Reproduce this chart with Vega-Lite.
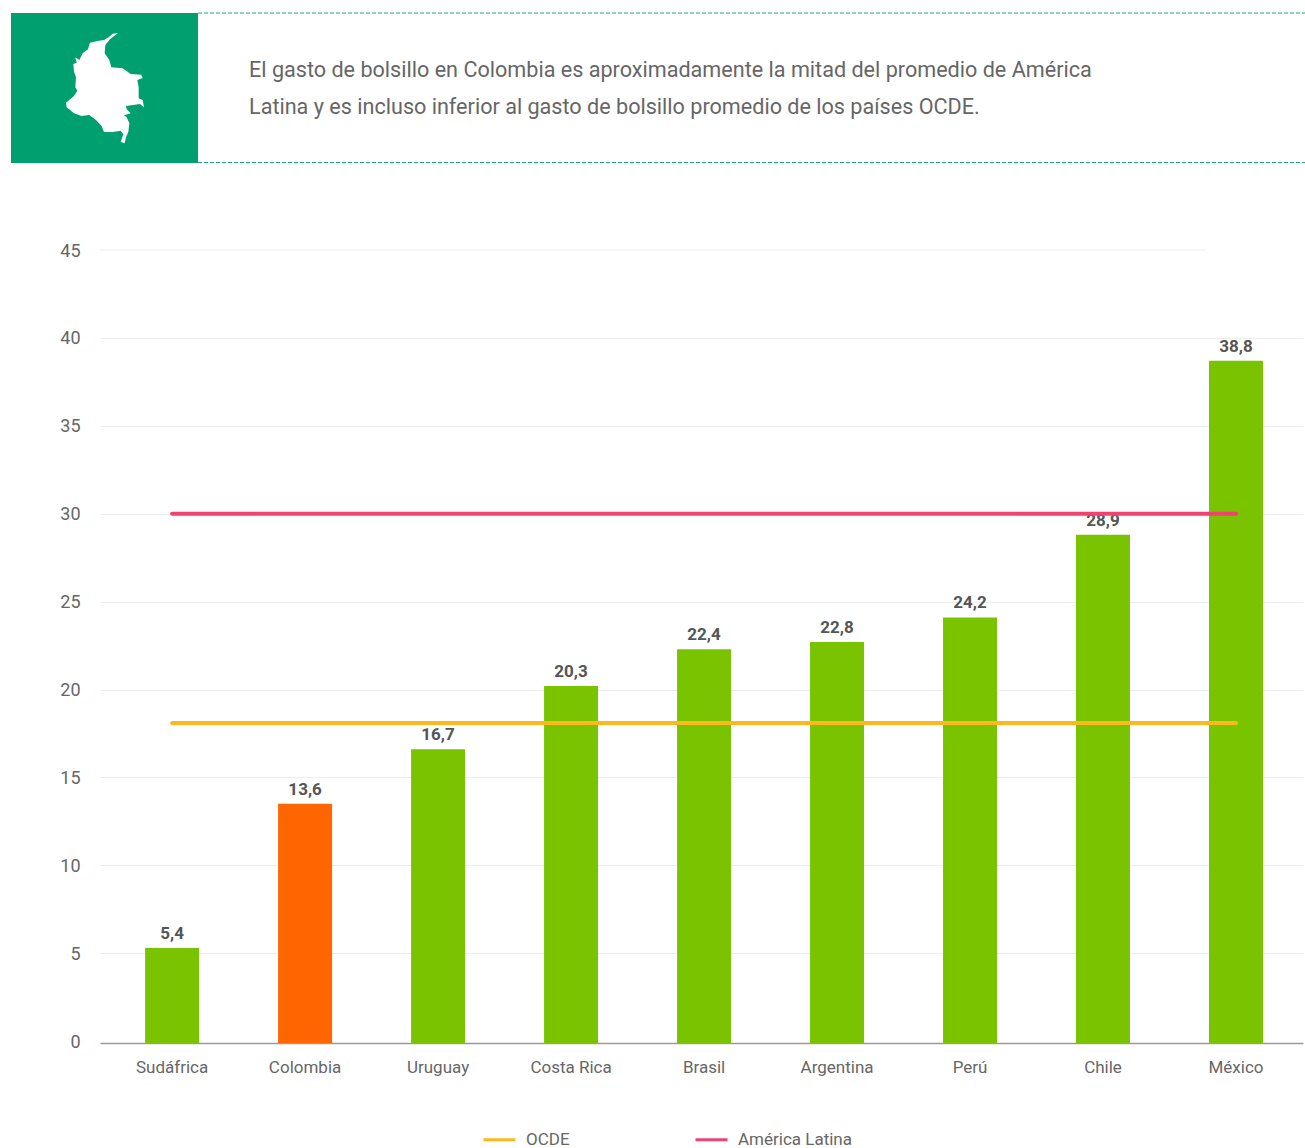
{
"$schema":"https://vega.github.io/schema/vega-lite/v6.json",
"width":1203,"height":793,
"autosize":{"type":"none"},
"padding":{"left":100,"top":250,"right":2,"bottom":105},
"background":"white",
"config":{"view":{"stroke":null},"font":"Roboto"},
"datasets":{
 "paises":[
  {"pais":"Sudáfrica","gasto":5.4,"etiqueta":"5,4","grupo":"Otros"},
  {"pais":"Colombia","gasto":13.6,"etiqueta":"13,6","grupo":"Colombia"},
  {"pais":"Uruguay","gasto":16.7,"etiqueta":"16,7","grupo":"Otros"},
  {"pais":"Costa Rica","gasto":20.3,"etiqueta":"20,3","grupo":"Otros"},
  {"pais":"Brasil","gasto":22.4,"etiqueta":"22,4","grupo":"Otros"},
  {"pais":"Argentina","gasto":22.8,"etiqueta":"22,8","grupo":"Otros"},
  {"pais":"Perú","gasto":24.2,"etiqueta":"24,2","grupo":"Otros"},
  {"pais":"Chile","gasto":28.9,"etiqueta":"28,9","grupo":"Otros"},
  {"pais":"México","gasto":38.8,"etiqueta":"38,8","grupo":"Otros"}
 ],
 "promedios":[
  {"pais":"Sudáfrica","serie":"OCDE","valor":18.1},
  {"pais":"México","serie":"OCDE","valor":18.1},
  {"pais":"Sudáfrica","serie":"América Latina","valor":30},
  {"pais":"México","serie":"América Latina","valor":30}
 ]
},
"resolve":{"scale":{"x":"independent","y":"independent","fill":"independent","stroke":"independent"},"axis":{"x":"independent","y":"independent"}},
"layer":[
 {"data":{"values":[{}]},"mark":{"type":"rect","fill":"#009F6F"},
  "encoding":{
   "x":{"datum":11,"type":"quantitative","scale":{"domain":[100,1303],"nice":false,"zero":false},"axis":null},
   "x2":{"datum":198},
   "y":{"datum":13,"type":"quantitative","scale":{"domain":[1043,250],"nice":false,"zero":false},"axis":null},
   "y2":{"datum":163}}},
 {"data":{"values":[{"posicion":13},{"posicion":162.5}]},"mark":{"type":"rule","stroke":"#1FA87F","strokeWidth":1,"strokeDash":[4,2]},
  "encoding":{
   "x":{"datum":198,"type":"quantitative","scale":{"domain":[100,1303],"nice":false,"zero":false},"axis":null},
   "x2":{"datum":1305},
   "y":{"field":"posicion","type":"quantitative","scale":{"domain":[1043,250],"nice":false,"zero":false},"axis":null}}},
 {"data":{"values":[{}]},"mark":{"type":"point","filled":true,"fill":"white","opacity":1,"stroke":null,"size":12544,
   "shape":"M.232,-.982L.137,-.97L.065,-.905L-.018,-.857L-.137,-.839L-.268,-.81L-.304,-.69L-.399,-.619L-.458,-.5L-.53,-.548L-.506,-.452L-.565,-.429L-.554,-.292L-.518,-.19L-.53,-.012L-.494,.048L-.554,.143L-.696,.262L-.685,.345L-.554,.452L-.417,.5L-.28,.482L-.161,.571L-.06,.679L-.018,.786L.137,.786L.28,.762L.327,.827L.28,.964L.351,.988L.375,.881L.417,.78L.435,.631L.387,.524L.339,.488L.458,.452L.387,.381L.375,.321L.625,.286L.696,.345L.673,.214L.601,.185L.601,-.012L.577,-.143L.673,-.179L.649,-.238L.458,-.25L.315,-.351L.113,-.369L.077,-.5L-.006,-.619L.006,-.768L.089,-.869Z"},
  "encoding":{
   "x":{"datum":105,"type":"quantitative","scale":{"domain":[100,1303],"nice":false,"zero":false},"axis":null},
   "y":{"datum":88,"type":"quantitative","scale":{"domain":[1043,250],"nice":false,"zero":false},"axis":null}}},
 {"data":{"values":[
   {"texto":"El gasto de bolsillo en Colombia es aproximadamente la mitad del promedio de América","linea":71},
   {"texto":"Latina y es incluso inferior al gasto de bolsillo promedio de los países OCDE.","linea":108}]},
  "mark":{"type":"text","align":"left","baseline":"middle","fontSize":21.6,"fontWeight":400,"color":"#666666"},
  "encoding":{
   "x":{"datum":249,"type":"quantitative","scale":{"domain":[100,1303],"nice":false,"zero":false},"axis":null},
   "y":{"field":"linea","type":"quantitative","scale":{"domain":[1043,250],"nice":false,"zero":false},"axis":null},
   "text":{"field":"texto"}}},
 {"data":{"values":[{}]},"mark":{"type":"rule","stroke":"#EDEDED","strokeWidth":1},
  "encoding":{
   "x":{"datum":100,"type":"quantitative","scale":{"domain":[100,1303],"nice":false,"zero":false},"axis":null},
   "x2":{"datum":1206},
   "y":{"datum":45,"type":"quantitative","scale":{"domain":[-0.1,45],"nice":false,"zero":false},"axis":null}}},
 {"data":{"name":"paises"},"mark":{"type":"bar"},
  "encoding":{
   "x":{"field":"pais","type":"nominal","sort":null,
    "scale":{"type":"band","paddingInner":0.594,"paddingOuter":0.32,"align":0.53},
    "axis":{"title":null,"labelAngle":0,"ticks":false,"domainColor":"#9A9A9A","domainWidth":1.5,"labelColor":"#666666","labelFont":"Roboto","labelFontSize":17,"labelFontWeight":400,"labelPadding":16,"grid":false}},
   "y":{"field":"gasto","type":"quantitative","scale":{"domain":[0,45.1],"nice":false},"axis":null},
   "fill":{"field":"grupo","type":"nominal","scale":{"domain":["Otros","Colombia"],"range":["#79C300","#FF6600"]},"legend":null}}},
 {"data":{"name":"paises"},"mark":{"type":"text","baseline":"middle","dy":-14,"fontSize":17,"fontWeight":"bold","color":"#555555"},
  "encoding":{
   "x":{"field":"pais","type":"nominal","sort":null,"scale":{"type":"band","paddingInner":0.594,"paddingOuter":0.32,"align":0.53},"axis":null},
   "y":{"field":"gasto","type":"quantitative","scale":{"domain":[0,45.1],"nice":false},"axis":null},
   "text":{"field":"etiqueta"}}},
 {"data":{"name":"promedios"},"mark":{"type":"line","strokeWidth":4,"strokeCap":"round"},
  "encoding":{
   "x":{"field":"pais","type":"nominal","sort":["Sudáfrica","Colombia","Uruguay","Costa Rica","Brasil","Argentina","Perú","Chile","México"],
    "scale":{"type":"band","domain":["Sudáfrica","Colombia","Uruguay","Costa Rica","Brasil","Argentina","Perú","Chile","México"],"paddingInner":0.594,"paddingOuter":0.32,"align":0.53},"axis":null},
   "y":{"field":"valor","type":"quantitative","scale":{"domain":[-0.1,45],"nice":false,"zero":false},
    "axis":{"title":null,"values":[0,5,10,15,20,25,30,35,40,45],"domain":false,"ticks":false,"labelColor":"#666666","labelFont":"Roboto","labelFontSize":18,"labelFontWeight":400,"labelPadding":20,"labelOffset":1,"grid":true,"gridColor":"#EDEDED","gridWidth":1,
     "gridOpacity":{"condition":{"test":"datum.value>=45||datum.value<=0","value":0},"value":1}}},
   "stroke":{"field":"serie","type":"nominal","scale":{"domain":["OCDE","América Latina"],"range":["#FFB81C","#F0436F"]},
    "legend":{"title":null,"orient":"none","legendX":382,"legendY":872,"direction":"horizontal","columns":2,"symbolType":"stroke","symbolSize":1024,"symbolStrokeWidth":3,"labelFont":"Roboto","labelFontSize":17,"labelFontWeight":400,"labelColor":"#666666","labelOffset":9,"columnPadding":119,"padding":0}}}}
]
}
